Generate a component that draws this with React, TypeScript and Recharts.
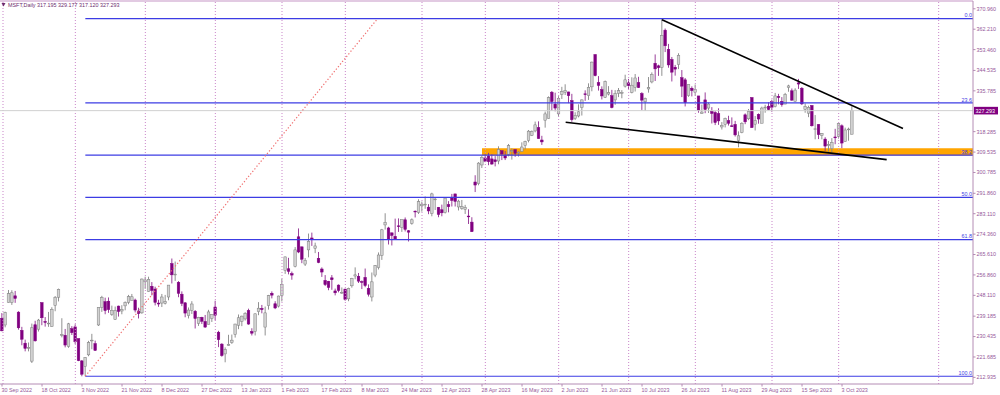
import React from "react";
import {
  ComposedChart,
  Bar,
  XAxis,
  YAxis,
  ReferenceLine,
  ReferenceArea,
} from "recharts";

// MSFT daily, 30 Sep 2022 .. 6 Oct 2023 (one entry per trading day)
const opens = [
  238.3, 235.4, 245.1, 245.0, 247.9, 240.9, 233.1, 227.6, 225.4, 219.9,
  235.5, 233.6, 245.0, 236.9, 236.0, 234.7, 243.8, 247.3, 231.2, 231.0,
  226.2, 233.8, 234.6, 229.5, 220.0, 217.6, 222.6, 228.6, 227.4, 235.4,
  242.9, 245.4, 245.6, 240.0, 237.8, 243.5, 241.4, 243.6, 245.1, 246.0,
  246.1, 241.4, 240.6, 253.9, 249.8, 252.0, 250.8, 244.8, 244.8, 244.7,
  247.4, 261.7, 257.1, 253.7, 248.6, 244.9, 239.4, 241.7, 241.3, 236.1,
  238.7, 236.9, 235.7, 238.2, 243.1, 232.3, 227.2, 223.0, 226.5, 227.8,
  231.3, 235.3, 237.0, 238.0, 241.6, 232.6, 232.6, 241.1, 242.5, 234.5,
  243.7, 249.0, 244.5, 243.5, 248.0, 258.8, 259.5, 257.4, 260.5, 273.2,
  268.9, 261.5, 267.6, 272.7, 268.3, 264.0, 259.4, 254.5, 254.1, 255.6,
  250.0, 252.5, 249.1, 250.8, 246.6, 252.2, 256.4, 256.3, 254.0, 255.8,
  251.1, 247.4, 256.8, 260.0, 265.2, 278.3, 277.0, 274.9, 273.4, 277.9,
  277.2, 280.5, 275.8, 279.0, 284.2, 283.7, 286.5, 287.2, 285.9, 283.2,
  289.2, 285.8, 284.8, 283.6, 287.0, 289.9, 291.6, 286.0, 285.3, 285.0,
  282.1, 279.5, 296.7, 296.0, 304.0, 307.0, 307.8, 306.6, 306.2, 305.7,
  310.1, 308.0, 308.6, 310.1, 310.6, 309.1, 309.8, 312.3, 314.5, 316.7,
  318.6, 320.0, 314.7, 323.2, 324.0, 335.2, 330.1, 325.9, 334.2, 335.2,
  335.3, 331.6, 323.9, 325.0, 328.6, 334.5, 333.7, 337.5, 351.3, 339.3,
  336.3, 333.0, 334.4, 333.7, 331.9, 334.7, 334.7, 337.8, 339.2, 335.1,
  337.3, 339.3, 334.6, 331.1, 336.6, 339.6, 347.6, 346.5, 345.8, 361.8,
  353.6, 349.2, 345.9, 347.1, 341.4, 340.5, 333.7, 336.9, 335.2, 333.6,
  326.0, 331.9, 328.4, 327.0, 326.5, 326.0, 320.3, 321.4, 323.0, 320.8,
  321.4, 314.5, 317.9, 325.5, 323.8, 332.9, 321.5, 325.7, 321.9, 328.7,
  329.2, 331.3, 329.0, 333.4, 331.3, 330.1, 337.2, 335.8, 331.3, 339.2,
  336.9, 327.8, 326.2, 329.5, 319.3, 321.3, 316.6, 315.1, 312.3, 311.0,
  316.0, 316.3, 320.8, 314.0, 319.1, 317.195,
];
const highs = [
  240.5, 241.1, 250.4, 250.3, 250.0, 241.3, 234.6, 229.1, 227.9, 236.0,
  237.2, 238.0, 245.0, 238.8, 241.0, 243.0, 247.8, 251.0, 238.3, 233.7,
  236.3, 234.9, 235.7, 229.6, 220.4, 221.6, 228.6, 231.6, 228.7, 243.0,
  247.9, 247.1, 247.2, 243.7, 243.3, 243.7, 243.9, 245.5, 248.3, 248.7,
  246.7, 242.8, 255.3, 256.1, 256.1, 253.8, 251.8, 246.2, 248.7, 248.3,
  252.5, 263.9, 262.6, 254.2, 249.8, 245.2, 242.9, 245.6, 241.8, 238.9,
  238.9, 239.7, 241.9, 240.0, 245.8, 232.9, 227.6, 225.8, 231.2, 231.3,
  235.9, 239.9, 239.4, 240.9, 242.4, 234.0, 240.3, 245.2, 244.0, 243.3,
  248.3, 249.8, 245.6, 248.0, 255.2, 264.7, 264.2, 258.3, 268.8, 276.8,
  269.0, 264.1, 274.6, 275.0, 270.7, 266.7, 260.1, 256.8, 254.3, 256.8,
  251.0, 252.8, 251.5, 250.9, 251.4, 255.6, 260.1, 257.7, 254.5, 259.6,
  252.8, 257.9, 261.1, 266.5, 276.6, 283.3, 277.5, 275.0, 281.0, 281.1,
  280.6, 281.5, 276.1, 281.1, 284.5, 289.3, 288.3, 290.5, 287.2, 292.1,
  290.0, 286.0, 287.0, 289.9, 288.5, 291.6, 291.6, 289.1, 289.0, 286.9,
  285.0, 281.6, 299.6, 305.2, 308.0, 308.6, 309.2, 308.6, 307.8, 312.0,
  310.2, 310.0, 313.0, 311.1, 310.6, 309.9, 313.7, 314.4, 319.0, 318.8,
  322.6, 322.7, 316.5, 326.9, 333.4, 335.7, 335.0, 333.5, 337.5, 338.6,
  335.4, 334.5, 326.6, 330.0, 332.1, 336.0, 339.0, 348.3, 351.5, 342.1,
  337.7, 340.2, 337.8, 336.2, 336.1, 337.0, 336.1, 342.7, 340.9, 341.6,
  343.0, 341.8, 335.2, 332.9, 341.7, 343.7, 351.4, 347.0, 366.8, 362.5,
  355.9, 350.3, 346.9, 351.9, 344.7, 341.3, 338.5, 337.7, 338.5, 333.6,
  329.9, 335.1, 330.8, 328.8, 327.1, 328.3, 322.4, 324.3, 325.1, 324.4,
  322.9, 318.4, 322.3, 326.1, 328.0, 333.0, 325.0, 326.1, 329.0, 329.8,
  330.9, 332.0, 334.9, 334.5, 333.1, 334.9, 338.4, 336.8, 336.9, 340.9,
  337.4, 330.4, 329.4, 329.6, 325.4, 321.5, 317.7, 315.9, 314.3, 315.5,
  319.5, 321.9, 321.4, 320.0, 320.0, 329.177,
];
const lows = [
  232.7, 234.4, 245.0, 244.0, 244.9, 233.4, 226.7, 224.1, 224.1, 219.1,
  228.3, 232.6, 235.3, 234.7, 234.6, 234.6, 241.3, 245.5, 230.1, 225.8,
  225.6, 231.1, 227.3, 219.9, 213.4, 213.4, 222.0, 225.0, 224.3, 235.0,
  241.0, 240.0, 240.6, 239.3, 237.6, 239.0, 240.0, 241.7, 244.3, 245.9,
  240.8, 238.2, 240.2, 250.9, 249.7, 248.1, 243.8, 243.2, 243.1, 244.2,
  246.0, 253.2, 254.3, 247.3, 243.5, 238.7, 238.2, 240.1, 233.9, 235.0,
  235.8, 234.2, 235.7, 236.7, 237.4, 225.9, 221.8, 219.4, 226.4, 227.3,
  230.0, 233.6, 234.9, 237.3, 235.5, 230.9, 230.9, 239.6, 240.4, 230.9,
  242.0, 246.8, 242.2, 242.9, 245.5, 257.3, 257.1, 254.8, 260.1, 266.2,
  261.9, 260.7, 264.4, 269.3, 266.2, 261.9, 256.0, 252.1, 250.3, 250.5,
  248.1, 249.4, 248.7, 245.8, 245.6, 251.4, 255.0, 253.4, 250.8, 251.6,
  247.6, 245.5, 255.9, 259.2, 263.3, 276.3, 269.9, 269.5, 272.2, 275.3,
  275.3, 275.5, 271.2, 278.4, 281.5, 283.0, 284.0, 285.2, 282.9, 282.0,
  284.7, 281.6, 282.0, 283.2, 283.7, 286.2, 286.2, 284.5, 284.8, 283.0,
  278.7, 275.4, 292.4, 295.3, 302.7, 305.2, 303.9, 304.1, 303.4, 304.3,
  306.1, 306.1, 307.7, 306.3, 307.5, 307.6, 309.8, 310.7, 313.7, 316.4,
  318.0, 315.3, 312.6, 320.0, 323.9, 327.3, 327.0, 324.7, 332.3, 334.0,
  330.5, 322.5, 323.3, 324.4, 325.2, 331.5, 331.9, 335.6, 342.0, 335.9,
  332.1, 332.7, 333.8, 328.3, 329.8, 333.1, 332.6, 337.2, 336.6, 334.7,
  335.5, 337.0, 327.6, 327.2, 335.0, 339.0, 340.0, 342.2, 342.2, 352.4,
  345.7, 339.8, 342.3, 345.1, 333.1, 329.1, 333.2, 333.4, 333.7, 326.4,
  326.0, 326.2, 326.3, 321.8, 321.1, 321.2, 319.2, 320.1, 320.9, 320.4,
  316.2, 311.6, 317.6, 321.5, 323.2, 320.0, 318.8, 321.7, 321.9, 326.4,
  327.5, 326.8, 328.7, 330.0, 329.0, 330.1, 335.4, 331.5, 331.2, 336.6,
  329.7, 326.4, 324.5, 320.5, 315.0, 315.1, 315.0, 310.0, 309.7, 309.5,
  312.9, 315.3, 311.2, 314.0, 314.4, 317.12,
];
const closes = [
  232.9, 240.7, 248.9, 249.2, 246.8, 234.2, 229.3, 225.4, 225.8, 234.2,
  228.6, 237.5, 238.5, 236.5, 236.2, 242.1, 247.3, 250.7, 231.3, 226.8,
  235.9, 232.1, 228.2, 220.1, 214.3, 221.4, 227.9, 228.9, 224.5, 243.0,
  247.1, 241.6, 242.0, 241.7, 241.7, 241.2, 242.1, 245.0, 247.6, 247.5,
  241.8, 240.3, 255.1, 254.7, 255.0, 250.2, 245.1, 244.4, 247.4, 245.4,
  252.5, 256.9, 257.2, 249.0, 244.7, 240.5, 241.8, 244.4, 238.2, 238.7,
  237.0, 234.5, 241.0, 239.8, 239.6, 229.1, 222.3, 224.9, 227.1, 228.9,
  235.8, 238.5, 239.2, 240.4, 235.8, 231.9, 240.2, 242.6, 242.0, 240.6,
  248.0, 248.2, 242.7, 247.8, 252.8, 264.6, 258.4, 256.8, 267.6, 266.7,
  263.6, 263.1, 271.3, 272.2, 269.3, 262.2, 258.1, 252.7, 251.5, 254.8,
  249.2, 250.2, 249.4, 246.3, 251.1, 255.3, 256.9, 254.2, 253.7, 252.3,
  248.6, 253.9, 260.8, 265.4, 276.2, 279.4, 272.2, 273.8, 272.3, 277.7,
  280.6, 276.4, 275.2, 280.5, 284.1, 288.3, 287.2, 287.2, 284.3, 291.6,
  289.4, 282.8, 283.5, 289.8, 286.1, 288.8, 288.4, 288.5, 286.1, 285.8,
  281.8, 275.4, 295.4, 304.8, 307.3, 305.6, 305.4, 304.4, 305.4, 310.7,
  308.7, 307.0, 312.3, 310.1, 309.0, 309.5, 311.7, 314.0, 318.5, 318.3,
  321.2, 315.3, 313.9, 325.9, 332.9, 331.2, 328.4, 332.6, 335.4, 335.9,
  333.7, 323.4, 325.3, 326.8, 331.9, 334.3, 337.3, 348.1, 342.3, 338.1,
  333.6, 339.7, 335.0, 328.6, 334.6, 335.9, 335.1, 340.5, 338.0, 338.2,
  341.3, 337.2, 331.8, 332.5, 337.2, 342.7, 345.2, 345.7, 359.5, 355.1,
  346.9, 343.8, 345.1, 351.0, 337.8, 330.7, 338.4, 335.9, 336.3, 327.5,
  326.7, 327.8, 330.1, 326.1, 322.2, 322.9, 321.0, 324.0, 321.9, 320.4,
  316.9, 316.5, 321.9, 322.5, 327.0, 320.0, 323.0, 323.7, 328.4, 328.8,
  327.8, 328.7, 333.6, 332.9, 329.9, 334.3, 337.9, 331.8, 336.1, 338.7,
  330.2, 329.1, 328.7, 320.8, 319.5, 317.0, 317.5, 312.1, 312.8, 313.6,
  315.75, 321.8, 313.4, 319.0, 319.4, 327.293,
];

const dateTickIndex = [
  0, 12, 24, 36, 48, 60, 72, 84, 96, 108, 120, 132, 144, 156, 168, 180, 192,
  204, 216, 228, 240, 252,
];
const dateTickLabels = [
  "30 Sep 2022", "18 Oct 2022", "3 Nov 2022", "21 Nov 2022", "8 Dec 2022",
  "27 Dec 2022", "13 Jan 2023", "1 Feb 2023", "17 Feb 2023", "8 Mar 2023",
  "24 Mar 2023", "12 Apr 2023", "28 Apr 2023", "16 May 2023", "2 Jun 2023",
  "21 Jun 2023", "10 Jul 2023", "26 Jul 2023", "11 Aug 2023", "29 Aug 2023",
  "15 Sep 2023", "3 Oct 2023",
];
const priceTicks = [
  370.96, 362.21, 353.46, 344.535, 335.785, 318.285, 309.535, 300.785, 291.86,
  283.11, 274.36, 265.61, 256.86, 248.11, 239.185, 230.435, 221.685, 212.935,
];
// first bar of each month (vertical grid)
const monthStarts = [0.3, 22, 43, 64, 84, 103, 126, 145, 167, 188, 208, 231, 251, 281];

const fibLow = 213.43;
const fibHigh = 366.78;
const fibRatios = [0, 0.236, 0.382, 0.5, 0.618, 1];
const fibNames = ["0.0", "23.6", "38.2", "50.0", "61.8", "100.0"];
const fibFrom = 25; // bar where the fib object starts
const fibTo = 112.7;

const zoneBottom = 308.1;
const zoneTop = 311.2;
const zoneFrom = 144;

const upperTrend = [
  { x: 198, y: 366.3 },
  { x: 270.3, y: 319.6 },
];
const lowerTrend = [
  { x: 169.1, y: 322.3 },
  { x: 265.4, y: 306.3 },
];

const X_MIN = -0.6;
const X_MAX = 291.3;
const Y_MIN = 210.1;
const Y_MAX = 374.3;

const rows = opens.map((o, i) => ({
  i,
  open: o,
  high: highs[i],
  low: lows[i],
  close: closes[i],
}));
const last = rows[rows.length - 1];

const AXIS = "#b48cb4";
const LABEL = "#96589a";
const FIB = "#3c3ce4";
const FONT = "'Liberation Sans', Arial, sans-serif";

function Candle(props: any) {
  const { x, y, width, height, payload } = props;
  if (x == null || payload == null) return null;
  const top = Math.min(y, y + height);
  const bottom = Math.max(y, y + height);
  const span = payload.high - payload.low;
  const k = span > 0 ? (bottom - top) / span : 0;
  const py = (v: number) => top + (payload.high - v) * k;
  const cx = x + width / 2;
  const up = payload.close >= payload.open;
  const bTop = py(Math.max(payload.open, payload.close));
  const bBot = py(Math.min(payload.open, payload.close));
  const bh = Math.max(bBot - bTop, 0.8);
  const bw = 2.6;
  return (
    <g>
      <line
        x1={cx}
        x2={cx}
        y1={top}
        y2={bottom}
        stroke={up ? "#858585" : "#8e2a8e"}
        strokeWidth={0.9}
      />
      <rect
        x={cx - bw / 2}
        y={bTop}
        width={bw}
        height={bh}
        fill={up ? "#d2d2d2" : "#800080"}
        stroke={up ? "#7c7c7c" : "#800080"}
        strokeWidth={0.5}
      />
    </g>
  );
}

function DateTick(props: any) {
  const { x, y, payload } = props;
  const idx = dateTickIndex.indexOf(payload.value);
  return (
    <g>
      <line x1={x} x2={x} y1={y} y2={y + 2.5} stroke={AXIS} strokeWidth={1} />
      <text x={x - 0.5} y={y + 8} fontSize={5.4} fill={LABEL} fontFamily={FONT} textAnchor="start">
        {dateTickLabels[idx]}
      </text>
    </g>
  );
}

function PriceTick(props: any) {
  const { x, y, payload } = props;
  return (
    <g>
      <line x1={x} x2={x + 2.5} y1={y} y2={y} stroke={AXIS} strokeWidth={1} />
      <text x={x + 3.5} y={y + 1.9} fontSize={5.4} fill={LABEL} fontFamily={FONT} textAnchor="start">
        {payload.value.toFixed(3)}
      </text>
    </g>
  );
}

function FibLabel(props: any) {
  const { viewBox, text } = props;
  if (!viewBox) return null;
  return (
    <text
      x={viewBox.x + viewBox.width - 1}
      y={viewBox.y - 1.2}
      fontSize={5.4}
      fill={FIB}
      fontFamily={FONT}
      textAnchor="end"
    >
      {text}
    </text>
  );
}

function LastPriceTag(props: any) {
  const { viewBox, text } = props;
  if (!viewBox) return null;
  const x0 = viewBox.x + viewBox.width + 1;
  return (
    <g>
      <rect x={x0} y={viewBox.y - 3.8} width={24} height={7.6} fill="#800080" />
      <text x={x0 + 1.5} y={viewBox.y + 1.9} fontSize={5.4} fill="#ffffff" fontFamily={FONT}>
        {text}
      </text>
    </g>
  );
}

export default function App() {
  return (
    <div style={{ position: "absolute", left: 0, top: 0, width: 1000, height: 395, background: "#ffffff" }}>
      <ComposedChart
        width={1000}
        height={395}
        data={rows}
        margin={{ top: 1, right: 0, bottom: 0, left: 0 }}
      >
        <XAxis
          type="number"
          dataKey="i"
          domain={[X_MIN, X_MAX]}
          allowDataOverflow
          ticks={dateTickIndex}
          interval={0}
          tick={<DateTick />}
          tickLine={false}
          tickSize={0}
          tickMargin={0}
          axisLine={{ stroke: AXIS }}
          height={11}
        />
        <YAxis
          orientation="right"
          domain={[Y_MIN, Y_MAX]}
          allowDataOverflow
          ticks={priceTicks}
          interval={0}
          tick={<PriceTick />}
          tickLine={false}
          tickSize={0}
          tickMargin={0}
          width={27}
          axisLine={{ stroke: AXIS }}
        />
        <ReferenceLine y={Y_MAX} stroke="#d8b8d8" strokeWidth={1.5} ifOverflow="visible" />
        {monthStarts.map((m) => (
          <ReferenceLine
            key={m}
            x={m}
            stroke="#c985c9"
            strokeDasharray="1 2"
            strokeWidth={1}
            ifOverflow="visible"
          />
        ))}
        <ReferenceArea
          x1={zoneFrom}
          x2={X_MAX}
          y1={zoneBottom}
          y2={zoneTop}
          fill="#ffa500"
          fillOpacity={1}
          stroke="none"
          ifOverflow="visible"
        />
        <ReferenceLine
          y={last.close}
          stroke="#d0d0d0"
          strokeWidth={1}
          ifOverflow="visible"
          label={<LastPriceTag text={last.close.toFixed(3)} />}
        />
        {fibRatios.map((r, k) => {
          const level = fibHigh - r * (fibHigh - fibLow);
          return (
            <ReferenceLine
              key={fibNames[k]}
              segment={[
                { x: fibFrom, y: level },
                { x: X_MAX, y: level },
              ]}
              stroke={FIB}
              strokeWidth={1.2}
              ifOverflow="visible"
              label={<FibLabel text={fibNames[k]} />}
            />
          );
        })}
        <ReferenceLine
          segment={[
            { x: fibFrom, y: fibLow },
            { x: fibTo, y: fibHigh },
          ]}
          stroke="#f07070"
          strokeDasharray="1.3 2"
          strokeWidth={1.2}
          ifOverflow="visible"
        />
        <Bar
          dataKey={(d: any) => [d.low, d.high]}
          barSize={3}
          shape={(p: any) => <Candle {...p} />}
          isAnimationActive={false}
        />
        <ReferenceLine segment={upperTrend} stroke="#000000" strokeWidth={1.6} ifOverflow="visible" />
        <ReferenceLine segment={lowerTrend} stroke="#000000" strokeWidth={1.6} ifOverflow="visible" />
      </ComposedChart>
      <svg
        width={200}
        height={12}
        style={{ position: "absolute", left: 0, top: 0 }}
      >
        <path d="M 1.5 3 L 5.5 3 L 3.5 6.5 Z" fill="#6e2c6e" />
        <text x={8} y={6.8} fontSize={5.4} fill="#6e2c6e" fontFamily={FONT}>
          {`MSFT,Daily  ${last.open.toFixed(3)} ${last.high.toFixed(3)} ${last.low.toFixed(3)} ${last.close.toFixed(3)}`}
        </text>
      </svg>
</div>
  );
}
